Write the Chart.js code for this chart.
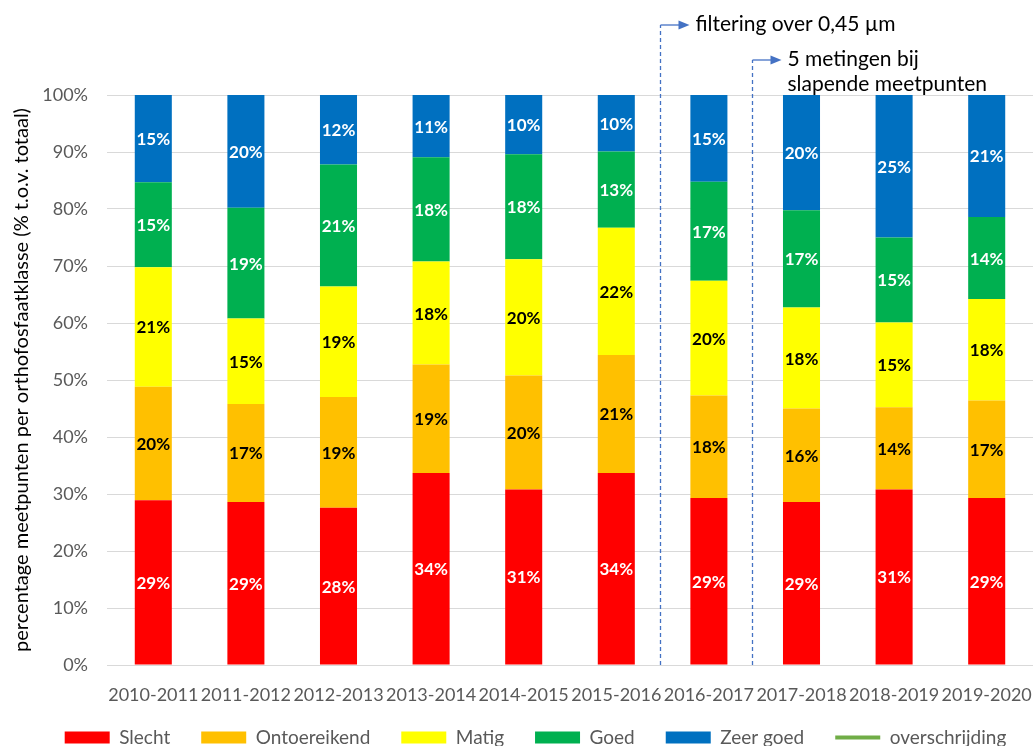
<!DOCTYPE html>
<html>
<head>
<meta charset="utf-8">
<title>Orthofosfaat meetpunten</title>
<script src="https://cdn.jsdelivr.net/npm/chart.js@4.4.0/dist/chart.umd.min.js"></script>
<style>
  html, body { margin: 0; padding: 0; background: #fff; }
  #wrap { width: 1036px; height: 746px; position: relative; }
</style>
</head>
<body>
<div id="wrap"><canvas id="chart"></canvas></div>
<script>
// Aandeel meetpunten per klasse (% t.o.v. totaal), per meetjaar
const seizoenen = ['2010-2011', '2011-2012', '2012-2013', '2013-2014', '2014-2015',
                   '2015-2016', '2016-2017', '2017-2018', '2018-2019', '2019-2020'];
const slecht       = [28.9, 28.6, 27.6, 33.7, 30.8, 33.7, 29.3, 28.6, 30.8, 29.3];
const ontoereikend = [19.9, 17.2, 19.4, 19.0, 20.0, 20.7, 18.0, 16.4, 14.4, 17.1];
const matig        = [21.0, 15.0, 19.4, 18.1, 20.4, 22.3, 20.1, 17.7, 14.9, 17.8];
const goed         = [14.9, 19.4, 21.4, 18.3, 18.4, 13.4, 17.4, 17.1, 14.9, 14.4];
const zeerGoed     = [15.3, 19.8, 12.2, 10.9, 10.4,  9.9, 15.2, 20.2, 25.0, 21.4];
const overschrijding = [];
const yTicks = [0, 10, 20, 30, 40, 50, 60, 70, 80, 90, 100];

// Opmerkingen boven de grafiek: na welke categorie-index de stippellijn komt
const opmerkingen = [
  { na: 5, hoogte: 70, tekst: ['filtering over 0,45 µm'] },
  { na: 6, hoogte: 35, tekst: ['5 metingen bij', 'slapende meetpunten'] }
];

const FONT = 'Lato, "Open Sans", sans-serif';
const KLEUREN = {
  slecht: '#FF0000',
  ontoereikend: '#FFC000',
  matig: '#FFFF00',
  goed: '#00B050',
  zeerGoed: '#0070C0',
  lijn: '#70AD47',
  pijl: '#4472C4'
};
const LEGENDA_PADDING = 31;
const LEGENDA_HOOGTE = 24;

// Percentages midden in elk balkdeel
const balkLabels = {
  id: 'balkLabels',
  afterDatasetsDraw(chart) {
    const ctx = chart.ctx;
    ctx.save();
    ctx.font = 'bold 17px ' + FONT;
    ctx.textAlign = 'center';
    ctx.textBaseline = 'middle';
    chart.data.datasets.forEach((ds, i) => {
      if (ds.type === 'line') return;
      const meta = chart.getDatasetMeta(i);
      meta.data.forEach((bar, j) => {
        const p = bar.getProps(['x', 'y', 'base'], true);
        ctx.fillStyle = ds.labelKleur;
        ctx.fillText(Math.round(ds.data[j]) + '%', p.x, (p.y + p.base) / 2 + 1);
      });
    });
    ctx.restore();
  }
};

// Stippellijnen met pijl en toelichting
const toelichting = {
  id: 'toelichting',
  afterDraw(chart) {
    const { ctx, chartArea, scales: { x } } = chart;
    ctx.save();
    opmerkingen.forEach(o => {
      const lx = Math.round((x.getPixelForValue(o.na) + x.getPixelForValue(o.na + 1)) / 2) - 2.5;
      const top = chartArea.top - o.hoogte;
      ctx.strokeStyle = KLEUREN.pijl;
      ctx.fillStyle = KLEUREN.pijl;
      ctx.lineWidth = 1.3;
      ctx.setLineDash([4, 3]);
      ctx.beginPath();
      ctx.moveTo(lx, chartArea.bottom);
      ctx.lineTo(lx, top);
      ctx.stroke();
      ctx.setLineDash([]);
      ctx.beginPath();
      ctx.moveTo(lx, top);
      ctx.lineTo(lx + 20, top);
      ctx.stroke();
      ctx.beginPath();
      ctx.moveTo(lx + 29, top);
      ctx.lineTo(lx + 18, top - 4.5);
      ctx.lineTo(lx + 18, top + 4.5);
      ctx.closePath();
      ctx.fill();

      ctx.fillStyle = '#000';
      ctx.font = '21px ' + FONT;
      ctx.textAlign = 'left';
      ctx.textBaseline = 'alphabetic';
      o.tekst.forEach((t, k) => ctx.fillText(t, lx + 35, top + 6 + k * 25));
    });
    ctx.restore();
  }
};

// Legenda onderaan: midden van de items op 737 px, iets naar rechts.
// De legenda knipt op haar eigen kader, dus dat kader loopt tot de onderrand.
const legendaPositie = {
  id: 'legendaPositie',
  afterLayout(chart) {
    const lg = chart.legend;
    lg.top = 737 - 9 - LEGENDA_PADDING;
    lg.bottom = chart.height;
    lg.height = lg.bottom - lg.top;
    lg.left += 19; lg.right += 19;
  }
};

function balk(label, data, kleur, labelKleur) {
  return {
    label,
    data,
    backgroundColor: kleur,
    borderWidth: 0,
    barPercentage: 0.4,
    categoryPercentage: 1,
    labelKleur
  };
}

new Chart(document.getElementById('chart'), {
  type: 'bar',
  data: {
    labels: seizoenen,
    datasets: [
      balk('Slecht', slecht, KLEUREN.slecht, '#FFFFFF'),
      balk('Ontoereikend', ontoereikend, KLEUREN.ontoereikend, '#000000'),
      balk('Matig', matig, KLEUREN.matig, '#000000'),
      balk('Goed', goed, KLEUREN.goed, '#FFFFFF'),
      balk('Zeer goed', zeerGoed, KLEUREN.zeerGoed, '#FFFFFF'),
      {
        type: 'line',
        label: 'overschrijding',
        data: overschrijding,
        borderColor: KLEUREN.lijn,
        backgroundColor: KLEUREN.lijn,
        borderWidth: 4,
        borderCapStyle: 'round',
        pointRadius: 0
      }
    ]
  },
  options: {
    responsive: true,
    maintainAspectRatio: false,
    animation: false,
    layout: { padding: { top: 95, right: 3, bottom: 0, left: 0 } },
    plugins: {
      tooltip: { enabled: false },
      legend: {
        position: 'bottom',
        maxHeight: LEGENDA_HOOGTE,
        labels: {
          usePointStyle: true,
          pointStyleWidth: 45,
          boxHeight: 12,
          padding: LEGENDA_PADDING,
          color: '#595959',
          font: { family: FONT, size: 19 },
          generateLabels(chart) {
            const items = Chart.defaults.plugins.legend.labels.generateLabels(chart);
            items.forEach((it, i) => {
              const ds = chart.data.datasets[i];
              if (ds.type === 'line') {
                it.pointStyle = 'line';
              } else {
                it.pointStyle = 'rect';
                it.lineWidth = 0;
              }
            });
            return items;
          }
        }
      }
    },
    scales: {
      x: {
        stacked: true,
        grid: { display: false },
        border: { display: false },
        ticks: {
          color: '#595959',
          font: { family: FONT, size: 18 },
          autoSkip: false,
          maxRotation: 0,
          minRotation: 0,
          padding: 11
        },
        // ruimte onder de grafiek: 81 px voor as + legenda
        afterFit(scale) {
          scale.height = 81 - LEGENDA_HOOGTE;
          scale.paddingLeft = 0;
          scale.paddingRight = 0;
        }
      },
      y: {
        stacked: true,
        min: 0,
        max: 100,
        afterBuildTicks(scale) { scale.ticks = yTicks.map(v => ({ value: v })); },
        grid: { color: '#D9D9D9', lineWidth: 1, drawTicks: false },
        border: { display: false },
        ticks: {
          color: '#595959',
          font: { family: FONT, size: 18 },
          padding: 19,
          callback: v => v + '%'
        },
        title: {
          display: true,
          text: 'percentage meetpunten per orthofosfaatklasse (% t.o.v. totaal)',
          color: '#000000',
          font: { family: FONT, size: 20 },
          padding: { top: 10, bottom: 0 }
        },
        afterFit(scale) { scale.width = 107; }
      }
    }
  },
  plugins: [balkLabels, toelichting, legendaPositie]
});
</script>
</body>
</html>
